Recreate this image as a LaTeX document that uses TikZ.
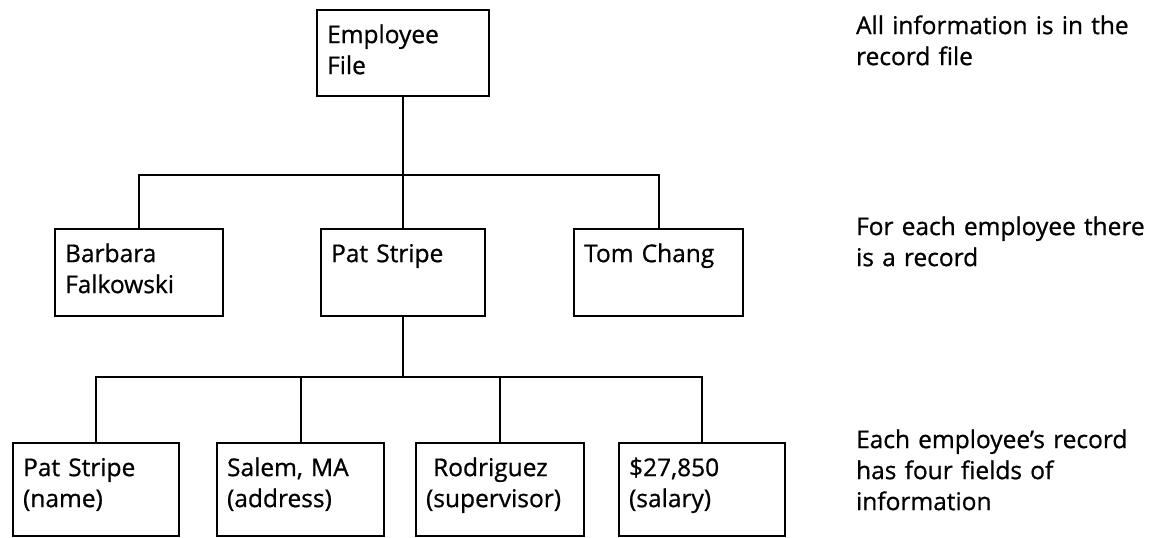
\documentclass[tikz,border=0pt]{standalone}
\usepackage{fontspec}
\setmainfont{Open Sans}[FakeBold=0.8]
\begin{document}
\begin{tikzpicture}[x=1pt, y=-1pt, line width=2.2pt,
  every node/.style={font=\fontsize{24.5}{31}\selectfont, inner sep=0pt},
  rec/.style={draw, anchor=north west, align=left, inner xsep=10pt, text width=#1, text height=33pt},
  note/.style={anchor=north west, align=left, text width=300pt, text height=33pt}]
\useasboundingbox (0,0) rectangle (1163,538);
% the file
\node [rec=152pt, text depth=53pt] (file) at (316,9) {Employee\\File};
% one record for each employee
\node [rec=148pt, text depth=54pt] (barbara) at (54,228) {Barbara\\Falkowski};
\node [rec=144pt, text depth=54pt] (pat) at (320,228) {Pat Stripe};
\node [rec=149pt, text depth=54pt] (tom) at (573,228) {Tom Chang};
% the fields of one record
\node [rec=146pt, text depth=60pt] (name) at (12,442) {Pat Stripe\\(name)};
\node [rec=147pt, text depth=60pt] (address) at (216,442) {Salem, MA\\(address)};
\node [rec=148pt, text depth=60pt] (supervisor) at (415,442) {\hspace*{7pt}Rodriguez\\(supervisor)};
\node [rec=146pt, text depth=60pt] (salary) at (618,442) {\$27,850\\(salary)};
\coordinate (split1) at (403,175);
\coordinate (split2) at (403,377);
\draw (file.south) -- (pat.north);
\draw (barbara.north) |- (split1) -| (tom.north);
\draw (pat.south) -- (pat.south |- split2);
\draw (name.north) |- (split2) -| (salary.north);
\draw (address.north) -- (address.north |- split2);
\draw (supervisor.north) -- (supervisor.north |- split2);
% notes on the right
\node [note] (filenote) at (855,0) {All information is in the\\record file};
\node [note] (recnote) at (855,201) {For each employee there\\is a record};
\node [note] (fieldnote) at (855,414) {Each employee’s record\\has four fields of\\information};
\end{tikzpicture}
\end{document}
